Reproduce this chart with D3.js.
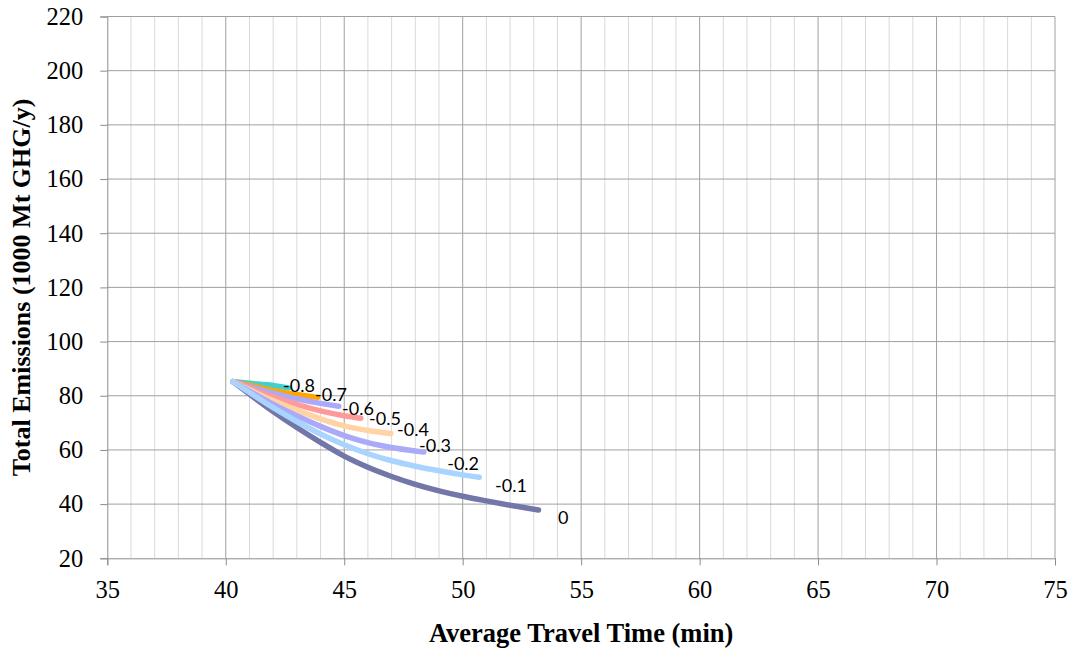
<!DOCTYPE html>
<html>
<head>
<meta charset="utf-8">
<script src="https://cdn.jsdelivr.net/npm/d3@7"></script>
<style>
  html, body { margin: 0; padding: 0; background: #fff; }
  svg { display: block; }
</style>
</head>
<body>
<svg id="chart" width="1072" height="649"></svg>
<script>
// ---- data ----
const xTicks = [35, 40, 45, 50, 55, 60, 65, 70, 75];
const yTicks = [20, 40, 60, 80, 100, 120, 140, 160, 180, 200, 220];

const seriesNames = ["0", "-0.8", "-0.7 (orange)", "-0.7", "-0.6", "-0.5", "-0.4", "-0.2"];
const seriesColors = ["#7376A9", "#44CFCF", "#FFA500", "#AAAAF8", "#FF9A9A", "#FFD3A3", "#AAAAF8", "#A8D4FF"];

const s0x = [40.3, 41, 42, 43, 44, 45, 46, 47, 48, 49, 50, 51, 52, 53.2];
const s0y = [85.2, 80.6, 74.2, 68.3, 62.8, 57.7, 53.6, 50.2, 47.3, 44.9, 42.9, 41.2, 39.6, 37.8];
const s1x = [40.3, 41, 42, 42.65];
const s1y = [85.2, 84.6, 83.8, 82.9];
const s2x = [40.3, 41, 42, 43, 43.88];
const s2y = [85.2, 83.9, 81.9, 80.5, 79.4];
const s3x = [40.3, 41, 42, 43, 44, 44.77];
const s3y = [85.2, 83.4, 81.0, 78.9, 77.2, 76.1];
const s4x = [40.3, 41, 42, 43, 44, 45, 45.7];
const s4y = [85.2, 82.8, 79.6, 76.8, 74.4, 72.6, 71.7];
const s5x = [40.3, 41, 42, 43, 44, 45, 46, 46.97];
const s5y = [85.2, 82.2, 78.2, 74.7, 71.5, 68.9, 67.2, 66.1];
const s6x = [40.3, 41, 42, 43, 44, 45, 46, 47, 48, 48.36];
const s6y = [85.2, 81.7, 76.9, 72.6, 68.7, 65.3, 62.7, 60.9, 59.6, 59.2];
const s7x = [40.3, 41, 42, 43, 44, 45, 46, 47, 48, 49, 50, 50.7];
const s7y = [85.2, 81.2, 75.6, 70.5, 65.9, 61.9, 58.6, 56.0, 54.0, 52.3, 50.8, 49.9];

const labelText = ["0", "-0.1", "-0.2", "-0.3", "-0.4", "-0.5", "-0.6", "-0.7", "-0.8"];
const labelX = [54.24, 52.04, 50.02, 48.83, 47.90, 46.72, 45.58, 44.44, 43.09];
const labelY = [35.25, 47.07, 55.19, 61.84, 67.75, 71.81, 75.50, 80.67, 84.0];

const xTitle = "Average Travel Time (min)";
const yTitle = "Total Emissions (1000 Mt GHG/y)";

// ---- chart ----
const svg = d3.select("#chart");
const pLeft = 107.3, pRight = 1055, pTop = 16.5, pBottom = 558.3;

const x = d3.scaleLinear().domain([35, 75]).range([pLeft, pRight]);
const y = d3.scaleLinear().domain([20, 220]).range([pBottom, pTop]);

const grid = svg.append("g");
grid.selectAll("line.minor")
  .data(d3.range(36, 75).filter(v => v % 5 !== 0))
  .enter().append("line")
  .attr("x1", d => x(d)).attr("x2", d => x(d))
  .attr("y1", pTop).attr("y2", pBottom)
  .attr("stroke", "#D9D9D9").attr("stroke-width", 1);
grid.selectAll("line.vmaj")
  .data(xTicks.slice(1))
  .enter().append("line")
  .attr("x1", d => x(d)).attr("x2", d => x(d))
  .attr("y1", pTop).attr("y2", pBottom)
  .attr("stroke", "#A0A0A0").attr("stroke-width", 1);
grid.selectAll("line.hmaj")
  .data(yTicks.slice(1))
  .enter().append("line")
  .attr("x1", pLeft).attr("x2", pRight)
  .attr("y1", d => y(d)).attr("y2", d => y(d))
  .attr("stroke", "#A0A0A0").attr("stroke-width", 1);

const xAxis = d3.axisBottom(x).tickValues(xTicks).tickSize(7).tickPadding(15).tickFormat(d3.format("d"));
const yAxis = d3.axisLeft(y).tickValues(yTicks).tickSize(7).tickPadding(17).tickFormat(d3.format("d"));

const gx = svg.append("g").attr("transform", `translate(0,${pBottom})`).call(xAxis);
const gy = svg.append("g").attr("transform", `translate(${pLeft},0)`).call(yAxis);
[gx, gy].forEach(g => {
  g.select(".domain").attr("stroke", "#8C8C8C");
  g.selectAll(".tick line").attr("stroke", "#8C8C8C");
  g.selectAll(".tick text")
    .attr("font-family", "'Liberation Serif', 'Times New Roman', serif")
    .attr("font-size", 24.5).attr("fill", "#000");
});

const seriesX = [s0x, s1x, s2x, s3x, s4x, s5x, s6x, s7x];
const seriesY = [s0y, s1y, s2y, s3y, s4y, s5y, s6y, s7y];
const line = d3.line().x(d => x(d[0])).y(d => y(d[1])).curve(d3.curveMonotoneX);

const gl = svg.append("g");
seriesNames.forEach((name, i) => {
  const pts = seriesX[i].map((v, j) => [v, seriesY[i][j]]);
  gl.append("path")
    .datum(pts)
    .attr("d", line)
    .attr("fill", "none")
    .attr("stroke", seriesColors[i])
    .attr("stroke-width", 5.5)
    .attr("stroke-linecap", "round")
    .attr("stroke-linejoin", "round");
});

svg.append("g").selectAll("text")
  .data(labelText)
  .enter().append("text")
  .attr("x", (d, i) => x(labelX[i]))
  .attr("y", (d, i) => y(labelY[i]))
  .attr("text-anchor", "middle")
  .attr("dominant-baseline", "central")
  .attr("font-family", "Lato, 'Open Sans', sans-serif")
  .attr("font-size", 18)
  .attr("fill", "#000")
  .text(d => d);

svg.append("text")
  .attr("x", (pLeft + pRight) / 2)
  .attr("y", 642)
  .attr("text-anchor", "middle")
  .attr("font-family", "'Liberation Serif', 'Times New Roman', serif")
  .attr("font-weight", "bold")
  .attr("font-size", 26.5)
  .text(xTitle);

svg.append("text")
  .attr("transform", `translate(30,${(pTop + pBottom) / 2}) rotate(-90)`)
  .attr("text-anchor", "middle")
  .attr("font-family", "'Liberation Serif', 'Times New Roman', serif")
  .attr("font-weight", "bold")
  .attr("font-size", 26)
  .text(yTitle);
</script>
</body>
</html>
